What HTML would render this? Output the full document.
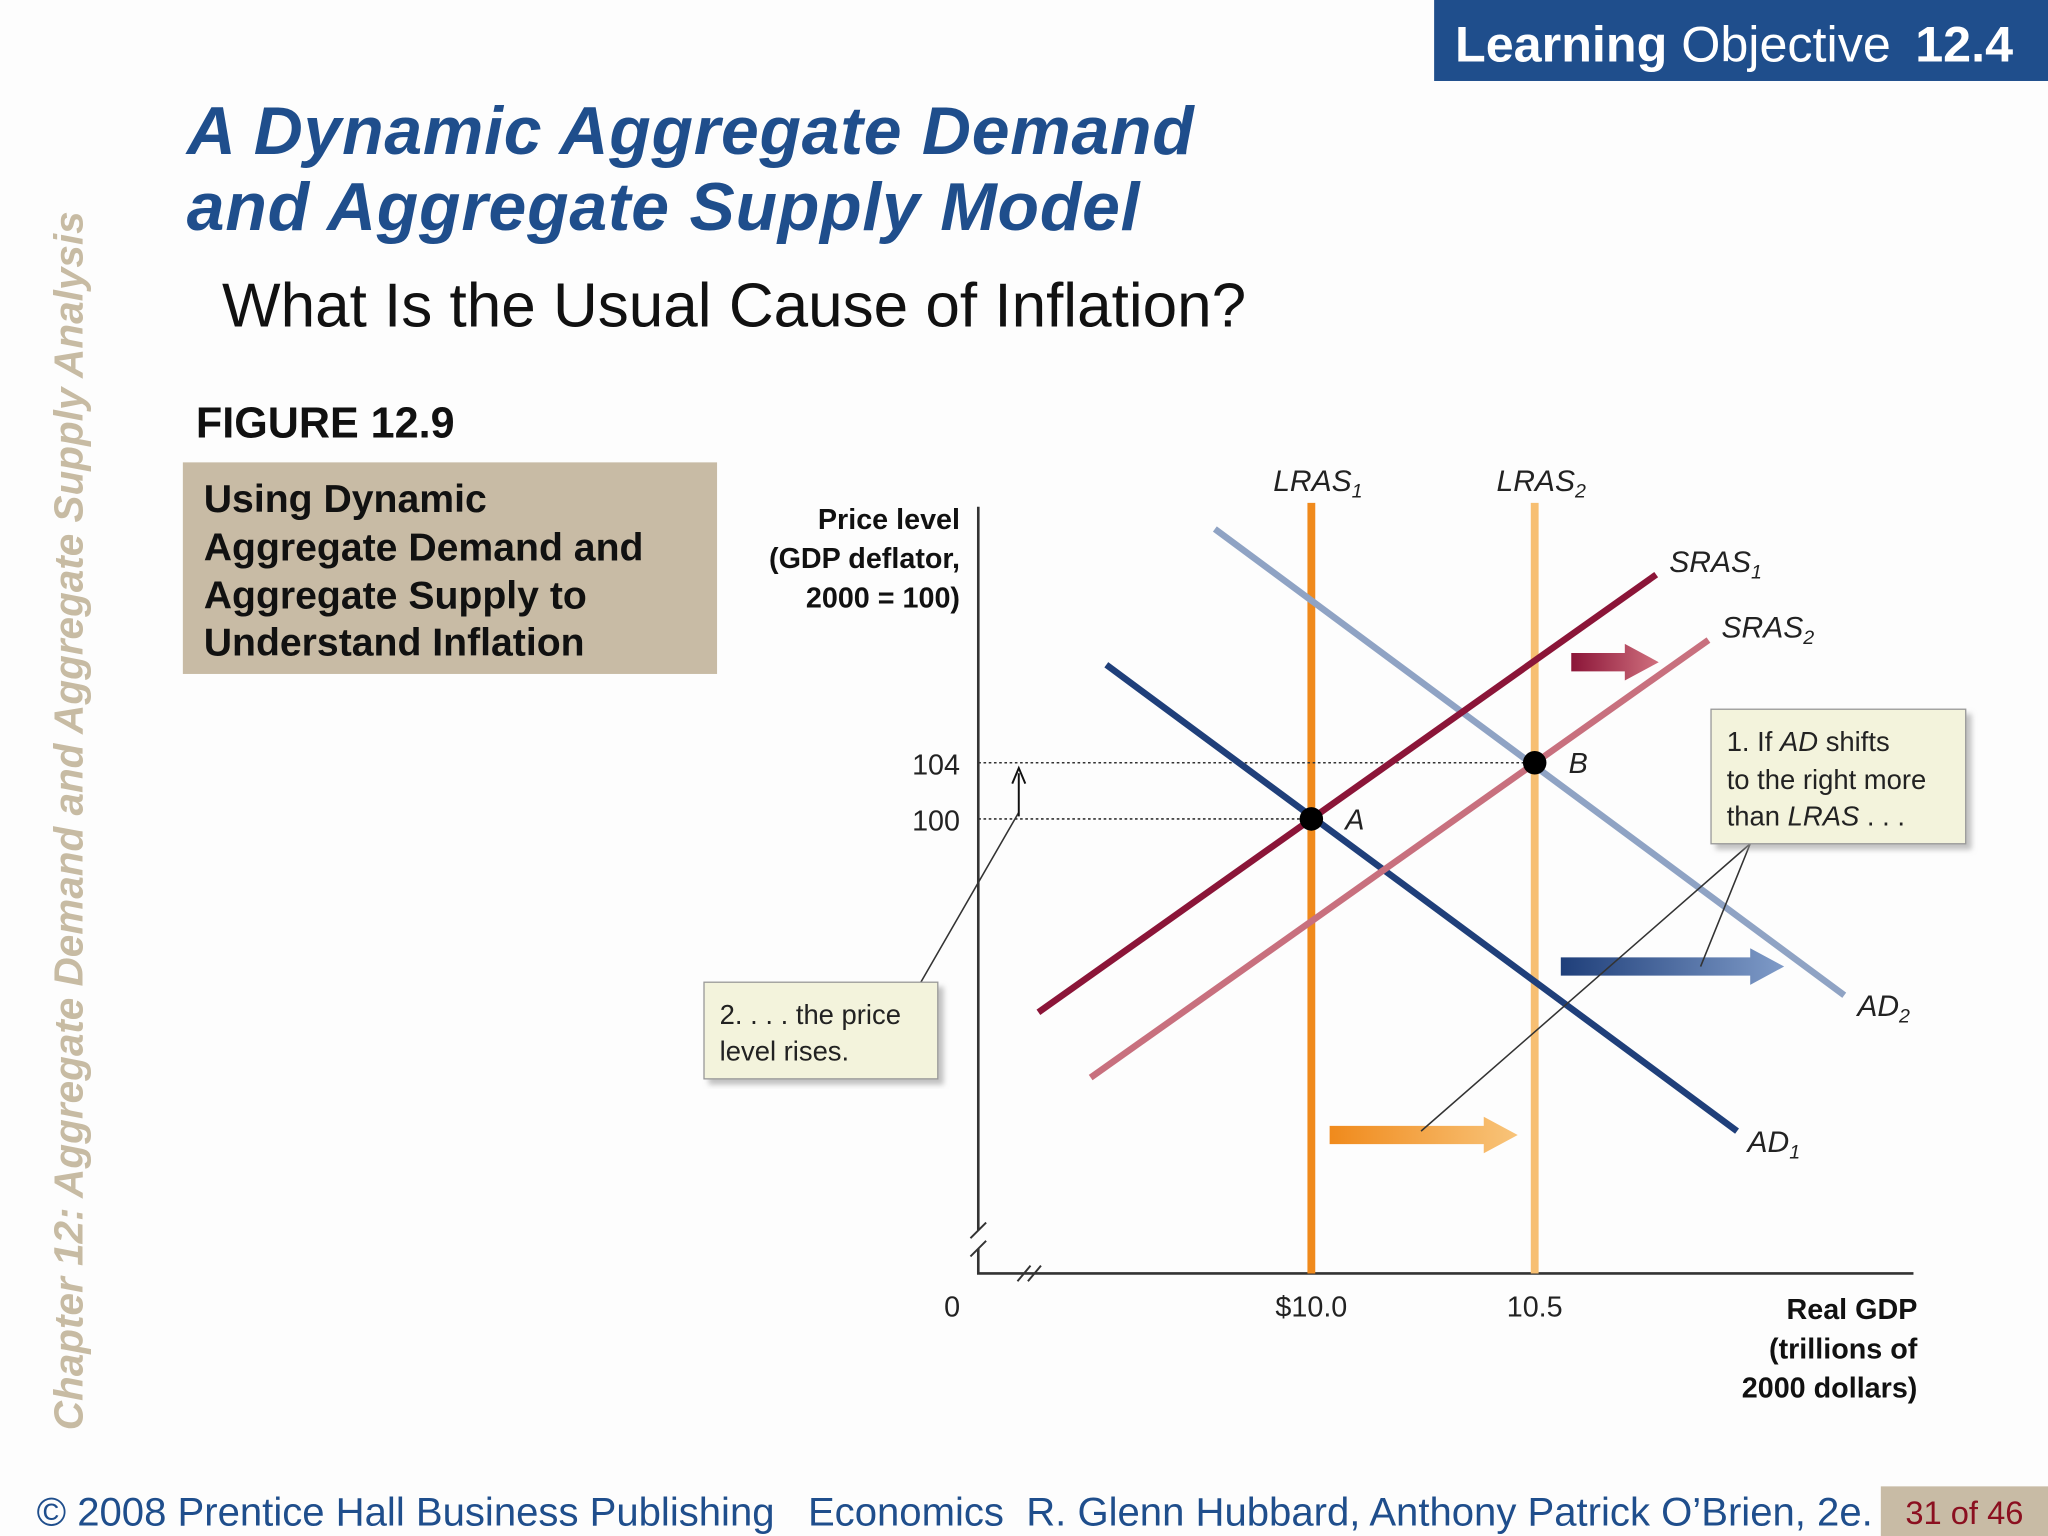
<!DOCTYPE html>
<html><head><meta charset="utf-8">
<style>
html,body{margin:0;padding:0;background:#fdfdfd;}
svg{display:block;}
text{font-family:"Liberation Sans",Arial,sans-serif;}
</style></head>
<body>
<svg id="s" width="2048" height="1536" viewBox="0 0 1568 1176" xmlns="http://www.w3.org/2000/svg">
<defs>
<linearGradient id="gr" x1="0" x2="1"><stop offset="0" stop-color="#8b1538"/><stop offset="1" stop-color="#d0707e"/></linearGradient>
<linearGradient id="gb" x1="0" x2="1"><stop offset="0" stop-color="#1f3f7a"/><stop offset="1" stop-color="#7f9bc8"/></linearGradient>
<linearGradient id="go" x1="0" x2="1"><stop offset="0" stop-color="#f08a1c"/><stop offset="1" stop-color="#f8c47a"/></linearGradient>
<filter id="sh"><feDropShadow dx="4" dy="4" stdDeviation="2" flood-color="#999" flood-opacity="0.6"/></filter>
</defs>
<rect x="0" y="0" width="1568" height="1176" fill="#fdfdfd"/>
<g>
<rect x="1098" y="0" width="470" height="62" fill="#1f4e8c"/>
<text x="1114" y="47" font-size="38.5" fill="#fff"><tspan font-weight="bold">Learning</tspan> Objective <tspan font-weight="bold" dx="8">12.4</tspan></text>
</g>
<g fill="#1f4e8c" font-size="52" font-weight="bold" font-style="italic" letter-spacing="0.6">
<text x="143" y="118">A Dynamic Aggregate Demand</text>
<text x="143" y="176">and Aggregate Supply Model</text>
</g>
<text x="170" y="250" font-size="47.5" fill="#111">What Is the Usual Cause of Inflation?</text>
<text transform="translate(63,1095) rotate(-90)" font-size="31" font-weight="bold" font-style="italic" fill="#c7bba3">Chapter 12:  Aggregate Demand and Aggregate Supply Analysis</text>
<text x="150" y="335" font-size="33" font-weight="bold" fill="#111">FIGURE 12.9</text>
<g>
<rect x="140" y="354" width="409" height="162" fill="#c8bba5"/>
<g font-size="30" font-weight="bold" fill="#111">
<text x="156" y="392">Using Dynamic</text>
<text x="156" y="429">Aggregate Demand and</text>
<text x="156" y="466">Aggregate Supply to</text>
<text x="156" y="502">Understand Inflation</text>
</g></g>
<g id="chart"></g>
<g>
<text x="28" y="1168" font-size="30.7" fill="#1f4e8c" xml:space="preserve">© 2008 Prentice Hall Business Publishing   Economics  R. Glenn Hubbard, Anthony Patrick O’Brien, 2e.</text>
<rect x="1440" y="1138" width="128" height="38" fill="#c8bba5"/>
<text x="1504" y="1167" font-size="25" fill="#8b1020" text-anchor="middle">31 of 46</text>
</g>
</svg>
<script>
const curveNames=['AD1','AD2','SRAS1','SRAS2'];
const curveGdp=[[9.541,10.953],[9.784,11.193],[9.389,10.772],[9.506,10.889]];
const curvePrice=[[110.98,77.77],[120.65,87.44],[86.23,117.40],[81.58,112.74]];
const lrasGdp=[10.0,10.5];
const pointLabels=['A','B'];
const pointGdp=[10.0,10.5];
const pointPrice=[100,104];
const priceTicks=[100,104];
const gdpTicks=['$10.0','10.5'];

const X=g=>1004+(g-10)*342;
const Y=p=>627-(p-100)*10.75;
const NS='http://www.w3.org/2000/svg';
const C=document.getElementById('chart');
function mk(tag,at,txt){const e=document.createElementNS(NS,tag);for(const k in at)e.setAttribute(k,at[k]);if(txt!==undefined)e.textContent=txt;C.appendChild(e);return e;}
const x0=749,yb=975,xr=1465;
let e=mk('path',{d:`M${x0} 388 V942 M${x0} 956 V${yb} H${xr}`,stroke:'#333','stroke-width':2,fill:'none'});


e=mk('path',{d:`M${x0-6} 948 L${x0+6} 936 M${x0-6} 962 L${x0+6} 950 M${x0+30} ${yb+6} L${x0+40} ${yb-6} M${x0+38} ${yb+6} L${x0+48} ${yb-6}`,stroke:'#333','stroke-width':1.5,fill:'none'});


const lrasCol=['#f08a1c','#f7bf72'];
lrasGdp.forEach((g,i)=>{
 e=mk('line',{x1:X(g),x2:X(g),y1:385,y2:yb,stroke:lrasCol[i],'stroke-width':6});
 
 
 e=mk('text',{x:X(g)+5,y:376,'font-size':23,'font-style':'italic','text-anchor':'middle',fill:'#222'},'LRAS');
 const ts=document.createElementNS(NS,'tspan');ts.setAttribute('font-size',15);ts.setAttribute('dy',5);ts.textContent=(i+1);e.appendChild(ts);
 
 
});
pointGdp.forEach((g,i)=>{
 e=mk('line',{x1:x0,x2:X(g),y1:Y(pointPrice[i]),y2:Y(pointPrice[i]),stroke:'#333','stroke-width':1.2,'stroke-dasharray':'2 2'});
 
 
});
const curveCol=['#1f3f7a','#8fa3c4','#8b1538','#c8707e'];
const labOff=[[8,16],[10,16],[10,-2],[10,-2]];
curveNames.forEach((n,i)=>{
 const g=curveGdp[i],p=curvePrice[i];
 e=mk('line',{x1:X(g[0]),y1:Y(p[0]),x2:X(g[1]),y2:Y(p[1]),stroke:curveCol[i],'stroke-width':5});
 
 
 e=mk('text',{x:X(g[1])+labOff[i][0],y:Y(p[1])+labOff[i][1],'font-size':23,'font-style':'italic',fill:'#222'},n.slice(0,-1));
 const ts=document.createElementNS(NS,'tspan');ts.setAttribute('font-size',15);ts.setAttribute('dy',5);ts.textContent=n.slice(-1);e.appendChild(ts);
 
 
});
pointGdp.forEach((g,i)=>{
 e=mk('circle',{cx:X(g),cy:Y(pointPrice[i]),r:9,fill:'#000'});
 
 
 e=mk('text',{x:X(g)+26,y:Y(pointPrice[i])+8,'font-size':22,'font-style':'italic',fill:'#222'},pointLabels[i]);
 
 
});
priceTicks.forEach(p=>{
 e=mk('text',{x:735,y:Y(p)+9,'font-size':22,'text-anchor':'end',fill:'#222'},p);
 
 
});
gdpTicks.forEach((t,i)=>{
 e=mk('text',{x:X(lrasGdp[i]),y:1008,'font-size':22,'text-anchor':'middle',fill:'#222'},t);
 
 
});
e=mk('text',{x:729,y:1008,'font-size':22,'text-anchor':'middle',fill:'#222'},'0');


['Price level','(GDP deflator,','2000 = 100)'].forEach((t,i)=>{
 e=mk('text',{x:735,y:405+i*30,'font-size':22,'font-weight':'bold','text-anchor':'end',fill:'#111'},t);
 
 
});
['Real GDP','(trillions of','2000 dollars)'].forEach((t,i)=>{
 e=mk('text',{x:1468,y:1010+i*30,'font-size':22,'font-weight':'bold','text-anchor':'end',fill:'#111'},t);
 
 
});
function arrow(x1,x2,y,h,fill,name){
 const hw=26;
 e=mk('path',{d:`M${x1} ${y-h/2} H${x2-hw} V${y-h} L${x2} ${y} L${x2-hw} ${y+h} V${y+h/2} H${x1} Z`,fill:fill});
 
 
}
arrow(1203,1270,507,14,'url(#gr)','sras-shift-arrow');
arrow(1195,1366,740,14,'url(#gb)','ad-shift-arrow');
arrow(1018,1162,869,14,'url(#go)','lras-shift-arrow');
e=mk('path',{d:'M1340 646 L1088 866 M1340 646 L1302 740 M705 752 L780 622',stroke:'#333','stroke-width':1.2,fill:'none'});


e=mk('path',{d:'M780 625 V592 M775 600 L780 588 L785 600',stroke:'#111','stroke-width':1.5,fill:'none'});


e=mk('rect',{x:1310,y:543,width:195,height:103,fill:'#f3f3dc',stroke:'#999','stroke-width':1,filter:'url(#sh)'});


e=mk('text',{x:1322,y:575,'font-size':21,fill:'#222'});
e.innerHTML='<tspan>1.  If <tspan font-style="italic">AD</tspan> shifts</tspan><tspan x="1322" dy="29">to the right more</tspan><tspan x="1322" dy="28">than <tspan font-style="italic">LRAS</tspan> . . .</tspan>';


e=mk('rect',{x:539,y:752,width:179,height:74,fill:'#f3f3dc',stroke:'#999','stroke-width':1,filter:'url(#sh)'});


e=mk('text',{x:551,y:784,'font-size':21,fill:'#222'});
e.innerHTML='<tspan>2. . . . the price</tspan><tspan x="551" dy="28">level rises.</tspan>';


</script>
</body></html>
